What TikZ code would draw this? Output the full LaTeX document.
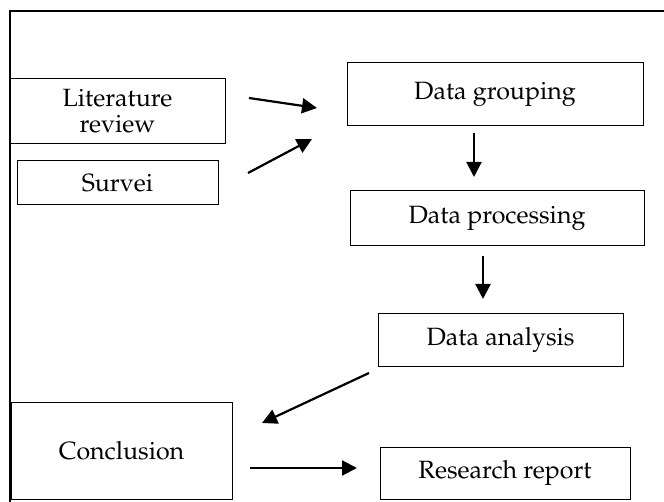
\documentclass[tikz,border=0pt]{standalone}
\usepackage[T1]{fontenc}
\usepackage{mathpazo}
\usetikzlibrary{arrows.meta}
\tikzset{>={Triangle[width=7.5pt,length=7.5pt]}}

\begin{document}
\begin{tikzpicture}[x=0.5pt,y=-0.5pt,font=\fontsize{12.5}{13}\selectfont]
\tikzstyle{b}=[draw,line width=0.5pt,inner sep=0,align=center]
\tikzstyle{a}=[->,line width=1.1pt]
\useasboundingbox (0,0) rectangle (664,502);

    % frame
    \draw[line width=1pt] (10,502) -- (10,11) -- (664,11);

    \node[b, minimum width=107.5pt, minimum height=32.5pt] (1) at (117.5,111.5){Literature\\review};
    \node[b, minimum width=100.5pt, minimum height=22pt] (2) at (117.5,183){Survei};
    \node[b, minimum width=148pt, minimum height=31.5pt] (3) at (495,94.5){Data grouping};
    \node[b, minimum width=147pt, minimum height=27.5pt] (4) at (497,218.5){Data processing};
    \node[b, minimum width=122.5pt, minimum height=26pt] (5) at (500.5,340){Data analysis};
    \node[b, minimum width=110.5pt, minimum height=48.5pt] (6) at (121.5,450.5){Conclusion};
    \node[b, minimum width=125pt, minimum height=26pt] (7) at (505,473){Research report};

    \coordinate (1s) at (249,98);   \coordinate (1e) at (317,108);
    \coordinate (2s) at (248,173);  \coordinate (2e) at (312,139);
    \coordinate (3s) at (474,133);  \coordinate (3e) at (474,177);
    \coordinate (4s) at (483,256);  \coordinate (4e) at (483,299);
    \coordinate (5s) at (369,373);  \coordinate (5e) at (262,423);
    \coordinate (6s) at (250,468);  \coordinate (6e) at (357,468);

    \draw[a] (1s) -- (1e);
    \draw[a] (2s) -- (2e);
    \draw[a] (3s) -- (3e);
    \draw[a] (4s) -- (4e);
    \draw[a] (5s) -- (5e);
    \draw[a] (6s) -- (6e);

\end{tikzpicture}
\end{document}
